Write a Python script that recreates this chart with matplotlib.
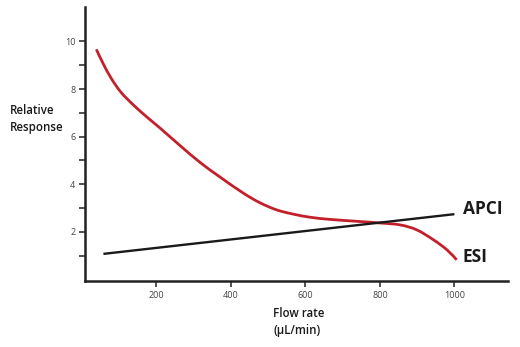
import matplotlib
matplotlib.use("Agg")
import matplotlib.pyplot as plt
from matplotlib.path import Path
from matplotlib.patches import PathPatch
from matplotlib.ticker import FixedLocator

# flow rate (uL/min) vs relative response
esi_flow = [39, 57, 79, 106, 142, 178, 210, 264, 317, 371, 434, 478, 523, 568, 613, 666, 738, 800, 854, 899, 944, 980, 1006]
esi_resp = [9.67, 9.08, 8.45, 7.85, 7.28, 6.78, 6.36, 5.62, 4.92, 4.30, 3.62, 3.22, 2.92, 2.74, 2.61, 2.52, 2.44, 2.37, 2.29, 2.08, 1.66, 1.24, 0.82]
apci_flow = [58, 1000]
apci_resp = [1.07, 2.74]

xticks = [200, 400, 600, 800, 1000]
yticks = [2, 4, 6, 8, 10]
yminor = [1, 3, 5, 7, 9]


def smooth_path(xs, ys):
    # catmull-rom through the points, written as cubic bezier segments
    pts = list(zip(xs, ys))
    verts = [pts[0]]
    codes = [Path.MOVETO]
    for i in range(len(pts) - 1):
        p0 = pts[i - 1] if i > 0 else pts[i]
        p1 = pts[i]
        p2 = pts[i + 1]
        p3 = pts[i + 2] if i + 2 < len(pts) else pts[i + 1]
        c1 = (p1[0] + (p2[0] - p0[0]) / 6, p1[1] + (p2[1] - p0[1]) / 6)
        c2 = (p2[0] - (p3[0] - p1[0]) / 6, p2[1] - (p3[1] - p1[1]) / 6)
        verts += [c1, c2, p2]
        codes += [Path.CURVE4] * 3
    return Path(verts, codes)


plt.rcParams['font.family'] = ['Open Sans', 'DejaVu Sans']

fig = plt.figure(figsize=(5.2, 3.47), dpi=100)
ax = fig.add_axes([85 / 520, (347 - 281) / 347, (507.7 - 85) / 520, (281 - 7) / 347])

ax.add_patch(PathPatch(smooth_path(esi_flow, esi_resp), fill=False, edgecolor='#c4202b',
                       lw=2.0, capstyle='butt', joinstyle='round'))
ax.plot(apci_flow, apci_resp, color='#1a1a1a', lw=1.7, solid_capstyle='butt')

ax.set_xlim(8.6, 1143)
ax.set_ylim(-0.07, 11.45)

ax.set_xticks(xticks)
ax.set_yticks(yticks)
ax.yaxis.set_minor_locator(FixedLocator(yminor))
ax.tick_params(axis='both', which='both', direction='out', width=1.2, color='#333333',
               labelsize=6.5, labelcolor='#444444')
ax.tick_params(axis='both', which='major', length=4, pad=3)
ax.tick_params(axis='y', which='minor', length=4)

for side in ['top', 'right']:
    ax.spines[side].set_visible(False)
for side in ['left', 'bottom']:
    ax.spines[side].set_linewidth(1.8)
    ax.spines[side].set_color('#222222')

# series labels at the line ends
ax.text(1022, 2.95, 'APCI', fontsize=12.5, fontweight='bold', color='#1a1a1a', va='center', ha='left')
ax.text(1022, 0.95, 'ESI', fontsize=12.5, fontweight='bold', color='#1a1a1a', va='center', ha='left')

fig.text(10 / 520, 1 - 119 / 347, 'Relative\nResponse', fontsize=8.3, fontweight='semibold',
         color='#1a1a1a', ha='left', va='center', linespacing=1.35)
fig.text(273 / 520, 1 - 322 / 347, 'Flow rate\n(\u00b5L/min)', fontsize=8.3, fontweight='semibold',
         color='#1a1a1a', ha='left', va='center', linespacing=1.35)

fig.savefig('out.png', dpi=100)
